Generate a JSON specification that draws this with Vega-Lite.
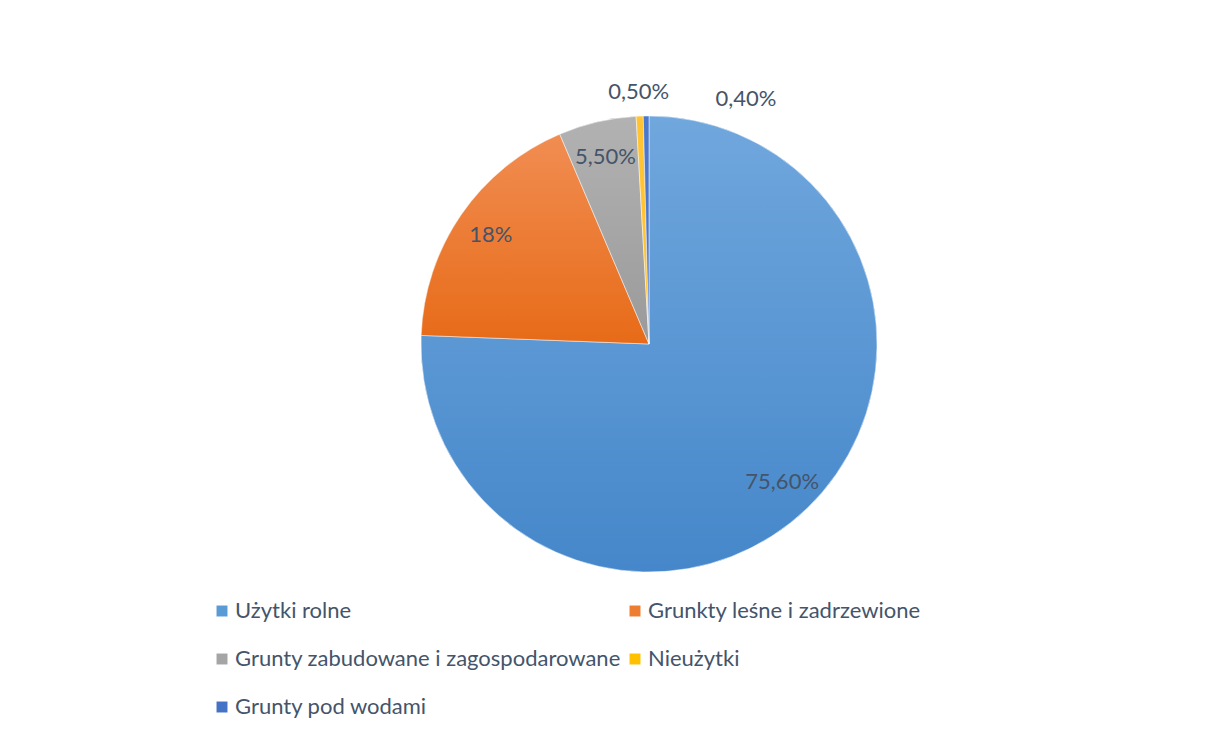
{
  "$schema": "https://vega.github.io/schema/vega-lite/v6.json",
  "width": 1298,
  "height": 688,
  "autosize": "none",
  "padding": {"left": 0, "top": 0, "right": 0, "bottom": 43},
  "background": "white",
  "config": {"view": {"stroke": null}},
  "data": {"values": [
    {"cat": "Użytki rolne", "value": 75.6, "label": "75,60%", "order": 1},
    {"cat": "Grunkty leśne i zadrzewione", "value": 18, "label": "18%", "order": 2},
    {"cat": "Grunty zabudowane i zagospodarowane", "value": 5.5, "label": "5,50%", "order": 3},
    {"cat": "Nieużytki", "value": 0.5, "label": "0,50%", "order": 4},
    {"cat": "Grunty pod wodami", "value": 0.4, "label": "0,40%", "order": 5}
  ]},
  "encoding": {
    "theta": {"field": "value", "type": "quantitative", "stack": true},
    "order": {"field": "order", "type": "quantitative"}
  },
  "layer": [
    {
      "mark": {"type": "arc", "outerRadius": 228, "stroke": "white", "strokeWidth": 0.5},
      "encoding": {
        "color": {
          "field": "cat", "type": "nominal",
          "scale": {
            "domain": ["Użytki rolne", "Grunkty leśne i zadrzewione", "Grunty zabudowane i zagospodarowane", "Nieużytki", "Grunty pod wodami"],
            "range": ["#5B9BD5", "#ED7D31", "#A5A5A5", "#FFC000", "#4472C4"]
          },
          "legend": {
            "orient": "none", "legendX": 211, "legendY": 600,
            "direction": "horizontal", "columns": 2, "title": null,
            "symbolType": "square", "symbolSize": 120, "symbolStrokeWidth": 0,
            "labelFont": "Lato", "labelFontSize": 22, "labelColor": "#44546A",
            "rowPadding": 26, "columnPadding": 3, "labelOffset": 2, "labelLimit": 600
          }
        }
      }
    },
    {
      "mark": {"type": "arc", "outerRadius": 228, "stroke": "white", "strokeWidth": 0.5},
      "encoding": {
        "color": {
          "condition": [
            {"test": "datum.order === 1", "value": {"gradient": "linear", "x1": 0, "y1": 0, "x2": 0, "y2": 1, "stops": [{"offset": 0, "color": "#70A7DD"}, {"offset": 1, "color": "#4587CA"}]}},
            {"test": "datum.order === 2", "value": {"gradient": "linear", "x1": 0, "y1": 0, "x2": 0, "y2": 1, "stops": [{"offset": 0, "color": "#F18D52"}, {"offset": 1, "color": "#E76B18"}]}},
            {"test": "datum.order === 3", "value": {"gradient": "linear", "x1": 0, "y1": 0, "x2": 0, "y2": 1, "stops": [{"offset": 0, "color": "#B2B2B2"}, {"offset": 1, "color": "#9A9A9A"}]}},
            {"test": "datum.order === 4", "value": "#FFC333"}
          ],
          "value": "#4A78CC"
        }
      }
    },
    {
      "mark": {"type": "text", "radius": 192, "font": "Lato", "fontSize": 22, "color": "#44546A"},
      "encoding": {
        "text": {"condition": {"test": "datum.order <= 3", "field": "label"}, "value": ""}
      }
    },
    {
      "mark": {"type": "text", "radius": 252, "font": "Lato", "fontSize": 22, "color": "#44546A"},
      "encoding": {
        "text": {"condition": {"test": "datum.order === 4", "field": "label"}, "value": ""}
      }
    },
    {
      "mark": {"type": "text", "radius": 245, "dx": 100, "font": "Lato", "fontSize": 22, "color": "#44546A"},
      "encoding": {
        "text": {"condition": {"test": "datum.order === 5", "field": "label"}, "value": ""}
      }
    }
  ]
}
